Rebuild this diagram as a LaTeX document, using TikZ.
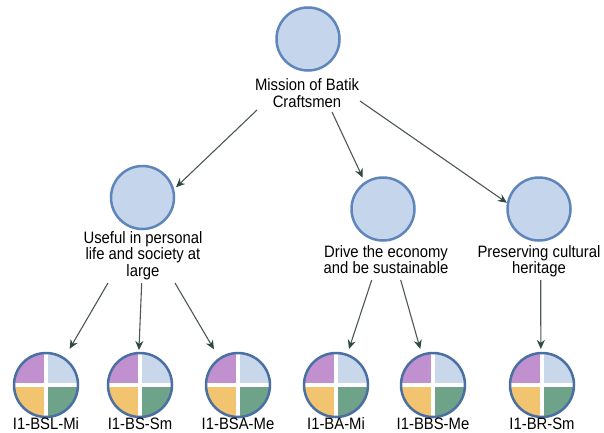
\documentclass[tikz,border=0pt]{standalone}
\usepackage{fontspec}
\newfontfamily\lab[FakeStretch=0.9]{Liberation Sans}
\usetikzlibrary{arrows.meta}
\definecolor{circfill}{HTML}{C5D5EC}
\definecolor{circline}{HTML}{5F86BA}
\definecolor{ringline}{HTML}{4B6FA3}
\definecolor{qpurple}{HTML}{C190CF}
\definecolor{qblue}{HTML}{C8D7EA}
\definecolor{qyellow}{HTML}{F2C470}
\definecolor{qgreen}{HTML}{6EA38A}
\definecolor{linkcol}{HTML}{4D5753}
\definecolor{headcol}{HTML}{2F4A40}
\tikzset{
  topic/.style={circle, draw=circline, fill=circfill, line width=2.5pt,
    minimum size=63pt, inner sep=0pt},
  ring/.style={circle, draw=ringline, line width=2.5pt,
    minimum size=64pt, inner sep=0pt},
  labeltext/.style={font=\lab\fontsize{16.5}{16.7}\selectfont, align=center,
    inner sep=0pt, anchor=north},
  tagtext/.style={font=\lab\fontsize{16.5}{16.7}\selectfont, inner sep=0pt,
    anchor=base},
  linkarrow/.style={draw=linkcol, line width=1.1pt,
    -{Stealth[length=9pt,width=8pt,color=headcol]}},
}
\begin{document}
\begin{tikzpicture}[x=1pt,y=-1pt]
\useasboundingbox[fill=white] (0,0) rectangle (604,432);

% goal and sub-goals
\node[topic] (A) at (308,39) {};
\node[labeltext] (At) at (307,78.7) {Mission of Batik\\Craftsmen};
\node[topic] (B) at (142.5,197.5) {};
\node[labeltext] (Bt) at (143,231) {Useful in personal\\life and society at\\large};
\node[topic] (C) at (383,209) {};
\node[labeltext] (Ct) at (386,245) {Drive the economy\\and be sustainable};
\node[topic] (D) at (539,209) {};
\node[labeltext] (Dt) at (539,245) {Preserving cultural\\heritage};

% indicator rings with four coloured quarters
\foreach \n/\x/\t in {b1/46/I1-BSL-Mi, b2/140/I1-BS-Sm, b3/238/I1-BSA-Me,
                      c1/336/I1-BA-Mi, c2/433/I1-BBS-Me, d1/542/I1-BR-Sm}{
  \begin{scope}
    \clip (\x,385) circle (32pt);
    \fill[qpurple] (\x,385) rectangle ++(-33pt,33pt);
    \fill[qblue]   (\x,385) rectangle ++(33pt,33pt);
    \fill[qyellow] (\x,385) rectangle ++(-33pt,-33pt);
    \fill[qgreen]  (\x,385) rectangle ++(33pt,-33pt);
    \draw[white, line width=4pt] (\x,385) ++(-32pt,0pt) -- ++(64pt,0pt);
    \draw[white, line width=4pt] (\x,385) ++(0pt,-32pt) -- ++(0pt,64pt);
  \end{scope}
  \node[ring] (\n) at (\x,385) {};
  \node[tagtext] (\n t) at (\x,429) {\t};
}

% arrow origins below the captions
\coordinate (s1) at (257,110);
\coordinate (s2) at (332,112);
\coordinate (s3) at (360,101);
\coordinate (s4) at (108,283);
\coordinate (s5) at (141.7,283);
\coordinate (s6) at (175,283);
\coordinate (s7) at (371.7,280);
\coordinate (s8) at (400.7,280);
\coordinate (s9) at (540.7,280);

\draw[linkarrow, shorten >=2.6pt] (s1) -- (B.15);
\draw[linkarrow, shorten >=4.6pt] (s2) -- (C.124);
\draw[linkarrow] (s3) -- (D.169);
\draw[linkarrow, shorten >=10pt] (s4) -- (b1.56);
\draw[linkarrow, shorten >=1.8pt] (s5) -- (b2.92);
\draw[linkarrow, shorten >=9.8pt] (s6) -- (b3.125.5);
\draw[linkarrow, shorten >=5pt] (s7) -- (c1.70);
\draw[linkarrow, shorten >=5pt] (s8) -- (c2.110);
\draw[linkarrow, shorten >=2.8pt] (s9) -- (d1.92);
\end{tikzpicture}
\end{document}
